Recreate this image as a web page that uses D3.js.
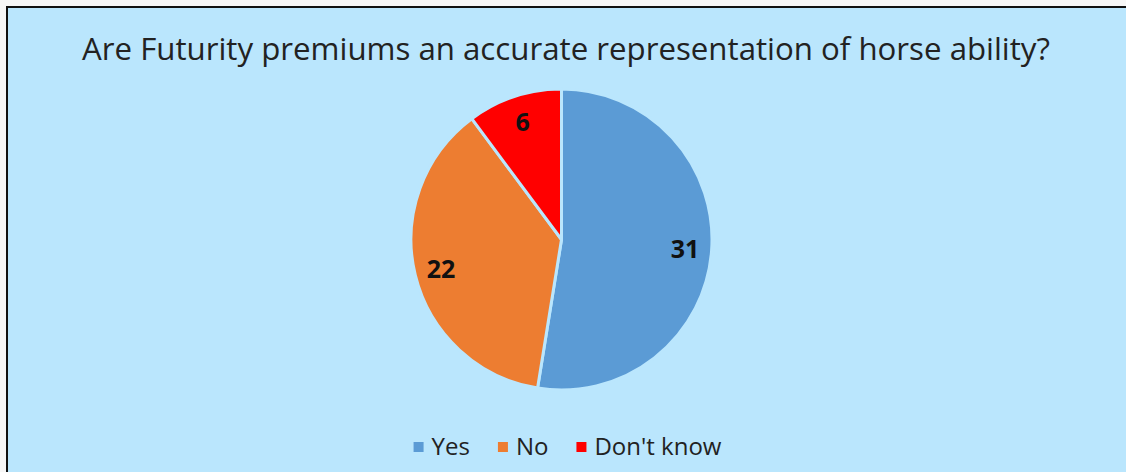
<!DOCTYPE html>
<meta charset="utf-8">
<style>
	body { margin: 0; background: #f7f7f7; }
	svg { display: block; }
	text { font-family: "Open Sans", "Noto Sans", sans-serif; }
</style>
<body>
<svg id="chart" width="1126" height="472"></svg>
<script src="https://d3js.org/d3.v7.min.js"></script>
<script>
	var categories = ["Yes", "No", "Don't know"];
	var counts = [31, 22, 6];
	var colors = ["#5B9BD5", "#ED7D31", "#FF0000"];
	var title = "Are Futurity premiums an accurate representation of horse ability?";

	var svg = d3.select("#chart"),
		width = +svg.attr("width"),
		height = +svg.attr("height"),
		bg = "#BAE6FD";

	// chart area with black frame, runs off the right/bottom edge
	svg.append("rect")
		.attr("x", 7).attr("y", 7)
		.attr("width", width + 20).attr("height", height + 20)
		.attr("fill", bg)
		.attr("stroke", "#111")
		.attr("stroke-width", 2);

	var cx = 566;

	// title, fit to the width seen in the reference
	var t = svg.append("text")
		.attr("x", cx).attr("y", 60)
		.attr("text-anchor", "middle")
		.attr("fill", "#222")
		.style("font-size", "26px")
		.text(title);
	var tw = t.node().getComputedTextLength();
	t.style("font-size", (26 * 968 / tw) + "px");

	var data = categories.map(function(c, i) { return {name: c, value: counts[i], color: colors[i]}; });

	var pie = d3.pie().sort(null).value(function(d) { return d.value; });
	var R = 150.5;
	var arc = d3.arc().innerRadius(0).outerRadius(R);
	var labelArc = d3.arc().innerRadius(124).outerRadius(124);

	var g = svg.append("g").attr("transform", "translate(561.5,239.5)");
	var arcs = pie(data);

	g.selectAll("path.slice")
		.data(arcs)
		.enter().append("path")
		.attr("class", "slice")
		.attr("d", arc)
		.attr("fill", function(d) { return d.data.color; })
		.attr("stroke", bg)
		.attr("stroke-width", 3)
		.attr("stroke-linejoin", "round");

	g.selectAll("text.lbl")
		.data(arcs)
		.enter().append("text")
		.attr("class", "lbl")
		.attr("transform", function(d) { return "translate(" + labelArc.centroid(d) + ")"; })
		.attr("text-anchor", "middle")
		.attr("dy", "0.36em")
		.attr("fill", "#111")
		.style("font-size", "25px")
		.style("font-weight", "bold")
		.text(function(d) { return d.data.value; });

	// legend, centred under the chart
	var legend = svg.append("g");
	var xpos = 0;
	data.forEach(function(d, i) {
		var item = legend.append("g").attr("transform", "translate(" + xpos + ",0)");
		item.append("rect")
			.attr("x", 0).attr("y", 442)
			.attr("width", 10).attr("height", 10)
			.attr("fill", d.color);
		var txt = item.append("text")
			.attr("x", 18).attr("y", 455)
			.attr("fill", "#222")
			.style("font-size", "24px")
			.text(d.name);
		xpos += 18 + txt.node().getComputedTextLength() + 28;
	});
	var lw = xpos - 28;
	legend.attr("transform", "translate(" + (567.5 - lw / 2) + ",0)");
</script>
</body>
